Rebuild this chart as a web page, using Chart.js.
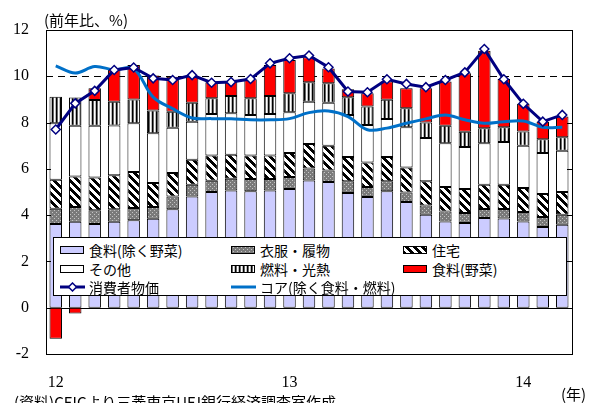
<!DOCTYPE html>
<html lang="ja">
<head>
<meta charset="utf-8">
<script src="https://cdn.jsdelivr.net/npm/chart.js@4.4.1/dist/chart.umd.min.js"></script>
<style>
  html, body { margin: 0; padding: 0; background: #fff; }
  #wrap { position: relative; width: 596px; height: 403px; overflow: hidden;
          font-family: "Noto Sans CJK JP", sans-serif; color: #000; }
  #chart { position: absolute; left: 0; top: 0; }
  .note { position: absolute; font-size: 15px; line-height: 1; white-space: nowrap; }
  #legend { position: absolute; left: 53px; top: 237px; width: 512px; height: 57px;
            background: #fff; border: 1px solid #000; }
  .item { position: absolute; height: 18px; display: flex; align-items: center;
          font-size: 14px; white-space: nowrap; }
  .item canvas { margin-right: 4px; }
</style>
</head>
<body>
<div id="wrap">
  <canvas id="chart" width="596" height="403"></canvas>
  <div class="note" style="left:44px; top:12px;">(前年比、%)</div>
  <div class="note" style="left:561px; top:386px;">(年)</div>
  <div class="note" style="left:14px; top:394px;">(資料)CEICより三菱東京UFJ銀行経済調査室作成</div>
  <div id="legend"></div>
</div>
<script>
// ==========================
// DATA
// ==========================

const months = [
    '2012/1', '2012/2', '2012/3', '2012/4', '2012/5', '2012/6', '2012/7', '2012/8', '2012/9',
    '2012/10', '2012/11', '2012/12',
    '2013/1', '2013/2', '2013/3', '2013/4', '2013/5', '2013/6', '2013/7', '2013/8', '2013/9',
    '2013/10', '2013/11', '2013/12',
    '2014/1', '2014/2', '2014/3'
];

// 食料(除く野菜)
const foodExVeg = [3.62, 3.71, 3.62, 3.71, 3.78, 3.84, 4.25, 4.81, 5.00, 5.07, 5.03, 5.06,
                   5.13, 5.50, 5.43, 4.96, 4.78, 5.03, 4.57, 4.02, 3.73, 3.66, 3.88, 3.85,
                   3.73, 3.49, 3.59];
// 衣服・履物
const clothing  = [0.66, 0.64, 0.59, 0.54, 0.53, 0.51, 0.56, 0.50, 0.49, 0.50, 0.53, 0.50,
                   0.52, 0.52, 0.50, 0.50, 0.44, 0.43, 0.41, 0.40, 0.43, 0.43, 0.39, 0.42,
                   0.41, 0.43, 0.43];
// 住宅
const housing   = [1.25, 1.32, 1.42, 1.47, 1.55, 1.04, 1.01, 1.08, 1.09, 1.04, 1.02, 1.02,
                   1.03, 1.05, 1.07, 1.05, 1.06, 1.05, 1.08, 1.04, 1.06, 1.04, 1.04, 1.04,
                   1.03, 0.99, 0.98];
// その他
const others    = [2.44, 2.19, 2.23, 2.15, 2.11, 2.15, 1.96, 1.65, 1.79, 1.79, 1.75, 1.79,
                   1.77, 1.83, 1.86, 1.82, 1.62, 1.64, 1.74, 1.87, 1.89, 1.81, 1.80, 1.85,
                   1.83, 1.77, 1.78];
// 燃料・光熱
const fuel      = [1.15, 1.22, 1.12, 1.03, 1.03, 0.98, 0.69, 0.82, 0.68, 0.75, 0.72, 0.78,
                   0.82, 0.84, 0.84, 0.76, 0.79, 0.84, 0.82, 0.67, 0.75, 0.66, 0.65, 0.64,
                   0.61, 0.60, 0.59];
// 食料(野菜)
const vegetable = [-1.34, -0.25, 0.50, 1.40, 1.49, 1.51, 1.51, 1.15, 0.69, 0.62, 0.82, 1.34,
                   1.43, 1.08, 0.64, 0.35, 0.58, 0.78, 0.86, 1.48, 1.91, 2.53, 3.34, 2.08,
                   1.20, 0.76, 0.89];
// 消費者物価
const cpi       = [7.70, 8.83, 9.37, 10.27, 10.38, 9.91, 9.84, 10.05, 9.72, 9.75, 9.88, 10.56,
                   10.78, 10.90, 10.39, 9.34, 9.31, 9.87, 9.67, 9.53, 9.84, 10.17, 11.18, 9.87,
                   8.81, 8.04, 8.33];
// コア(除く食料・燃料)
const core      = [10.45, 10.14, 10.42, 10.28, 10.33, 9.10, 8.60, 8.20, 8.17, 8.16, 8.12, 8.12,
                   8.17, 8.43, 8.50, 8.26, 7.69, 7.76, 7.97, 8.16, 8.33, 8.12, 7.97, 8.04,
                   8.07, 7.80, 7.80];

const yTicks = [-2, 0, 2, 4, 6, 8, 10, 12];

// ==========================
// PATTERNS
// ==========================

const canvas = document.getElementById('chart');
const ctx = canvas.getContext('2d');

function makePattern(w, h, paint) {
    const tile = document.createElement('canvas');
    tile.width = w;
    tile.height = h;
    paint(tile.getContext('2d'));
    return ctx.createPattern(tile, 'repeat');
}

const dotPattern = makePattern(4, 4, g => {
    g.fillStyle = '#7a7a7a';
    g.fillRect(0, 0, 4, 4);
    g.fillStyle = '#c4c4c4';
    g.fillRect(0, 0, 1, 1);
    g.fillRect(2, 2, 1, 1);
});

const diagPattern = makePattern(8, 8, g => {
    for (let x = 0; x < 8; x++) {
        for (let y = 0; y < 8; y++) {
            g.fillStyle = (((x - y) % 8) + 8) % 8 < 4 ? '#000' : '#fff';
            g.fillRect(x, y, 1, 1);
        }
    }
});

const vertPattern = makePattern(4, 1, g => {
    const cols = ['#000', '#666', '#fff', '#bbb'];
    cols.forEach((c, i) => {
        g.fillStyle = c;
        g.fillRect(i, 0, 1, 1);
    });
});

// ==========================
// CHART
// ==========================

function barSet(label, data, fill) {
    return {
        type: 'bar',
        label: label,
        data: data,
        backgroundColor: fill,
        borderColor: '#000',
        borderWidth: 1,
        borderSkipped: false,
        stack: 'cpi-parts',
        categoryPercentage: 1,
        barPercentage: 0.64,
        order: 3
    };
}

const datasets = [
    barSet('食料(除く野菜)', foodExVeg, '#ccccff'),
    barSet('衣服・履物', clothing, dotPattern),
    barSet('住宅', housing, diagPattern),
    barSet('その他', others, '#ffffff'),
    barSet('燃料・光熱', fuel, vertPattern),
    barSet('食料(野菜)', vegetable, '#ff0000'),
    {
        type: 'line',
        label: '消費者物価',
        data: cpi,
        borderColor: '#000080',
        borderWidth: 3,
        pointStyle: 'rectRot',
        pointRadius: 4.5,
        pointBackgroundColor: '#fff',
        pointBorderColor: '#000080',
        pointBorderWidth: 1.5,
        tension: 0,
        stack: 'cpi-line',
        order: 1
    },
    {
        type: 'line',
        label: 'コア(除く食料・燃料)',
        data: core,
        borderColor: '#0070c8',
        borderWidth: 3,
        pointRadius: 0,
        tension: 0.35,
        stack: 'core-line',
        order: 2
    }
];

const framePlugin = {
    id: 'frame',
    beforeDatasetsDraw(chart) {
        const { ctx, chartArea: a, scales: { y } } = chart;
        ctx.save();
        ctx.strokeStyle = '#000';
        ctx.lineWidth = 1;

        // dashed line at 10
        let py = Math.round(y.getPixelForValue(10)) + 0.5;
        ctx.setLineDash([7, 5]);
        ctx.beginPath();
        ctx.moveTo(a.left, py);
        ctx.lineTo(a.right, py);
        ctx.stroke();

        // zero line
        ctx.setLineDash([]);
        py = Math.round(y.getPixelForValue(0)) + 0.5;
        ctx.beginPath();
        ctx.moveTo(a.left, py);
        ctx.lineTo(a.right, py);
        ctx.stroke();
        ctx.restore();
    },
    afterDatasetsDraw(chart) {
        const { ctx, chartArea: a, scales: { y } } = chart;
        ctx.save();
        ctx.strokeStyle = '#000';
        ctx.lineWidth = 1;

        // inward ticks on both sides
        yTicks.forEach(v => {
            const py = Math.round(y.getPixelForValue(v)) + 0.5;
            ctx.beginPath();
            ctx.moveTo(a.left, py);
            ctx.lineTo(a.left + 5, py);
            ctx.moveTo(a.right, py);
            ctx.lineTo(a.right - 5, py);
            ctx.stroke();
        });

        ctx.strokeRect(Math.round(a.left) + 0.5, Math.round(a.top) + 0.5,
                       Math.round(a.right - a.left), Math.round(a.bottom - a.top));
        ctx.restore();
    }
};

const chart = new Chart(canvas, {
    type: 'bar',
    data: {
        labels: months,
        datasets: datasets
    },
    options: {
        responsive: false,
        animation: false,
        layout: {
            padding: { top: 30, right: 24, left: 0, bottom: 0 }
        },
        plugins: {
            legend: { display: false },
            tooltip: { enabled: false }
        },
        scales: {
            x: {
                stacked: true,
                grid: { display: false },
                border: { display: false },
                ticks: {
                    autoSkip: false,
                    maxRotation: 0,
                    padding: 11,
                    color: '#000',
                    font: { family: '"Liberation Serif", serif', size: 16 },
                    callback: (v, i) => {
                        const m = months[i];
                        return m.endsWith('/1') ? m.slice(2, 4) : '';
                    }
                },
                afterFit: scale => { scale.height = 49; }
            },
            y: {
                stacked: true,
                min: -2,
                max: 12,
                grid: { display: false, drawTicks: false },
                border: { display: false },
                ticks: {
                    stepSize: 2,
                    padding: 17,
                    color: '#000',
                    font: { family: '"Liberation Serif", serif', size: 16 }
                },
                afterFit: scale => { scale.width = 46; }
            }
        }
    },
    plugins: [framePlugin]
});

// ==========================
// LEGEND
// ==========================

const legendEl = document.getElementById('legend');
const colX = [6, 177, 349];
const rowY = [3, 22, 40];

datasets.forEach((ds, i) => {
    const item = document.createElement('div');
    item.className = 'item';
    item.style.left = colX[i % 3] + 'px';
    item.style.top = rowY[Math.floor(i / 3)] + 'px';

    const sw = document.createElement('canvas');
    sw.width = 25;
    sw.height = 10;
    const g = sw.getContext('2d');

    if (ds.type === 'bar') {
        g.fillStyle = ds.backgroundColor;
        g.fillRect(1, 1, 23, 8);
        g.strokeStyle = '#000';
        g.lineWidth = 1;
        g.strokeRect(0.5, 1.5, 23, 7);
    } else {
        g.strokeStyle = ds.borderColor;
        g.lineWidth = 3;
        g.beginPath();
        g.moveTo(0, 5);
        g.lineTo(25, 5);
        g.stroke();
        if (ds.pointRadius > 0) {
            g.fillStyle = '#fff';
            g.strokeStyle = ds.pointBorderColor;
            g.lineWidth = 1.5;
            g.beginPath();
            g.moveTo(12.5, 1);
            g.lineTo(16.5, 5);
            g.lineTo(12.5, 9);
            g.lineTo(8.5, 5);
            g.closePath();
            g.fill();
            g.stroke();
        }
    }

    const txt = document.createElement('span');
    txt.textContent = ds.label;

    item.appendChild(sw);
    item.appendChild(txt);
    legendEl.appendChild(item);
});
</script>
</body>
</html>
